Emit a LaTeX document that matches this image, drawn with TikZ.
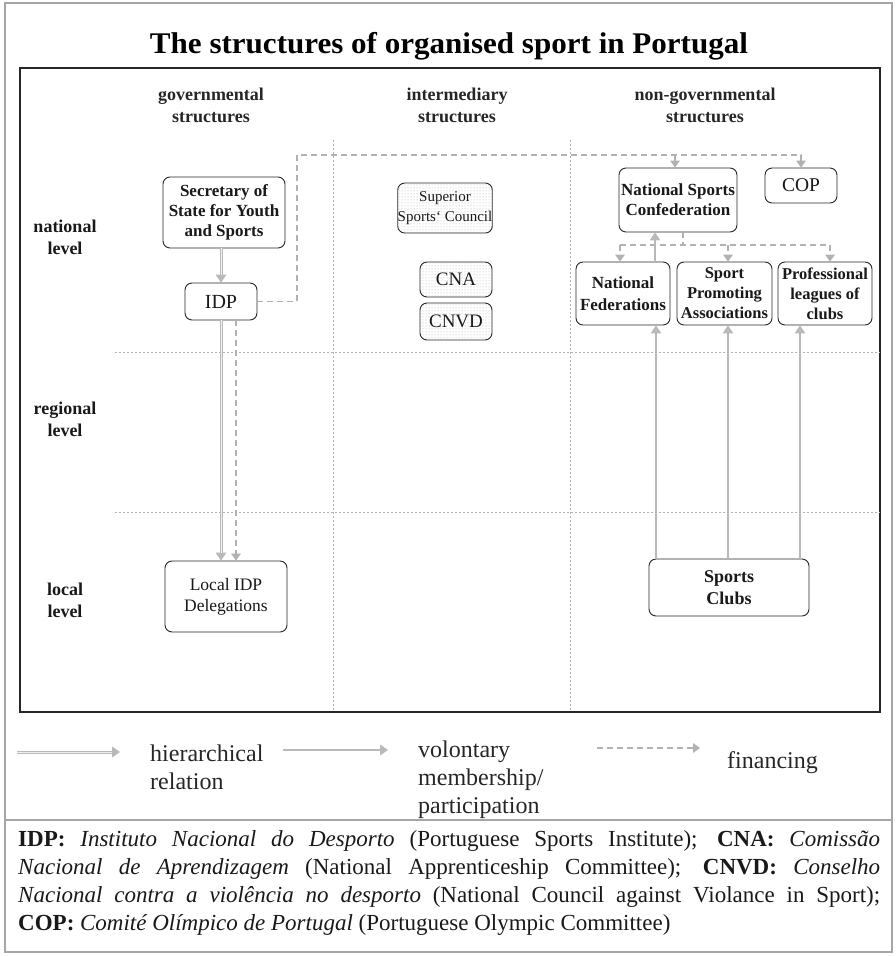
\documentclass[tikz,border=0pt]{standalone}
\usepackage{fontspec}
\setmainfont{Liberation Serif}
\usepackage{graphicx}
\usetikzlibrary{arrows.meta,patterns}
\begin{document}
\begin{tikzpicture}[x=1pt,y=-1pt,
  box/.style={draw=black!85, line width=0.9pt, rounded corners=7pt, fill=white, inner sep=0pt, align=center, text=black!90},
  dotbox/.style={box, preaction={fill=white}, pattern=dots, pattern color=gray!60},
  sep/.style={draw=gray!60, line width=0.8pt, dash pattern=on 1.5pt off 2.5pt},
  hier/.style={draw=gray!55, line width=3pt, -{Triangle[width=11pt,length=8pt,line width=0pt]}, postaction={draw=gray!12, line width=1pt, shorten >=8pt, -}},
  vol/.style={draw=gray!55, line width=2.6pt, -{Triangle[width=11pt,length=8pt,line width=0pt]}},
  finline/.style={draw=gray!60, line width=1.6pt, dash pattern=on 6pt off 4pt},
  fin/.style={finline, -{Triangle[width=10pt,length=7pt,line width=0pt]}},
  bx/.style={font=\fontsize{17}{20}\selectfont\bfseries},
  hdr/.style={font=\fontsize{18}{22}\selectfont\bfseries, align=center, inner sep=0pt, text=black!85},
  lvl/.style={font=\fontsize{18}{22}\selectfont\bfseries, align=center, inner sep=0pt, text=black!90},
  leg/.style={font=\fontsize{24}{28}\selectfont, align=left, inner sep=0pt, text=black!85}
]
\useasboundingbox (0,0) rectangle (895,956);
% frames
\draw[gray!70, line width=1.5pt] (5,3) rectangle (892,952);
\draw[black!85, line width=1.5pt] (20,68) rectangle (880,712);
\draw[gray!70, line width=2pt] (5,820) -- (892,820);
% title
\node[anchor=base, inner sep=0pt] (title) at (449,53) {\resizebox{598pt}{\height}{\fontsize{30}{36}\selectfont\bfseries The structures of organised sport in Portugal}};
% separators
\draw[sep] (333,140) -- (333,712);
\draw[sep] (570,140) -- (570,712);
\draw[sep] (115,352) -- (880,352);
\draw[sep] (115,512) -- (880,512);
% headers
\node[hdr, anchor=north] (hgov) at (211,88) {governmental\\structures};
\node[hdr, anchor=north] (hint) at (457,88) {intermediary\\structures};
\node[hdr, anchor=north] (hnon) at (705,88) {non-governmental\\structures};
% levels
\node[lvl, anchor=north] (lnat) at (65,220) {national\\level};
\node[lvl, anchor=north] (lreg) at (65,402) {regional\\level};
\node[lvl, anchor=north] (lloc) at (65,583) {local\\level};
% boxes
\node[box, bx, minimum width=122pt, minimum height=71pt] (sec) at (224,212.5) {Secretary of\\State for Youth\\and Sports};
\node[box, font=\fontsize{20}{22}\selectfont, minimum width=72pt, minimum height=37pt] (idp) at (221,301.5) {IDP};
\node[box, font=\fontsize{17.5}{21}\selectfont, minimum width=122pt, minimum height=71pt] (local) at (226,596.5) {Local IDP\\Delegations};
\node[dotbox, font=\fontsize{15}{20}\selectfont, minimum width=94pt, minimum height=50pt] (sup) at (445,208) {Superior\\Sports‘ Council};
\node[dotbox, font=\fontsize{19}{22}\selectfont, minimum width=72pt, minimum height=35pt] (cna) at (456,279.5) {CNA};
\node[dotbox, font=\fontsize{19}{22}\selectfont, minimum width=72pt, minimum height=37pt] (cnvd) at (456,321.5) {CNVD};
\node[box, bx, minimum width=118pt, minimum height=64pt] (nsc) at (678,200) {National Sports\\Confederation};
\node[box, font=\fontsize{19.5}{22}\selectfont, minimum width=72pt, minimum height=35pt] (cop) at (801,185.5) {COP};
\node[box, minimum width=94pt, minimum height=63pt, font=\fontsize{17}{22}\selectfont\bfseries] (natfed) at (623,293.5) {National\\Federations};
\node[box, font=\fontsize{16.5}{20}\selectfont\bfseries, minimum width=95pt, minimum height=63pt] (spa) at (724.5,293.5) {Sport\\Promoting\\Associations};
\node[box, font=\fontsize{16.5}{20}\selectfont\bfseries, minimum width=94pt, minimum height=63pt] (plc) at (825,293.5) {Professional\\leagues of\\clubs};
\node[box, font=\fontsize{18}{22}\selectfont\bfseries, minimum width=160pt, minimum height=57pt] (clubs) at (729,587.5) {Sports\\Clubs};
% hierarchical
\draw[hier] (idp.north |- sec.south) -- (idp.north);
\draw[hier] (idp.south) -- (idp.south |- local.north);
% financing
\coordinate (ix) at (236,400);
\draw[fin] (ix |- idp.south) -- (ix |- local.north);
\coordinate (f1) at (297,155);
\draw[fin] (idp.east) -| (f1) -- (f1 -| cop.north) -- (cop.north);
\coordinate (f3) at (675,155);
\draw[fin] (f3) -- (f3 |- nsc.north);
\coordinate (d0) at (683,245);
\coordinate (dl) at (620,245);
\coordinate (dm) at (728,245);
\coordinate (dr) at (830,245);
\draw[finline] (d0 |- nsc.south) -- (d0);
\draw[finline] (dl) -- (dr);
\draw[fin] (dl) -- (dl |- natfed.north);
\draw[fin] (dm) -- (dm |- spa.north);
\draw[fin] (dr) -- (dr |- plc.north);
% voluntary membership
\coordinate (vx) at (655,250);
\draw[vol] (vx |- natfed.north) -- (vx |- nsc.south);
\coordinate (cx1) at (656,400);
\coordinate (cx2) at (728,400);
\coordinate (cx3) at (800,400);
\draw[vol] (cx1 |- clubs.north) -- (cx1 |- natfed.south);
\draw[vol] (cx2 |- clubs.north) -- (cx2 |- spa.south);
\draw[vol] (cx3 |- clubs.north) -- (cx3 |- plc.south);
% legend
\coordinate (lh1) at (17,752);
\coordinate (lh2) at (120,752);
\draw[hier] (lh1) -- (lh2);
\node[leg, anchor=north west] (lhier) at (150,745) {hierarchical\\relation};
\coordinate (lv1) at (283,750);
\coordinate (lv2) at (388,750);
\draw[vol] (lv1) -- (lv2);
\node[leg, anchor=north west] (lvol) at (418,741) {volontary\\membership/\\participation};
\coordinate (lf1) at (597,748);
\coordinate (lf2) at (700,748);
\draw[fin] (lf1) -- (lf2);
\node[leg, anchor=north west] (lfin) at (727,751) {financing};
% footnote
\node[anchor=north west, inner sep=0pt, align=left, text=black!90, font=\fontsize{23}{28}\selectfont] (foot) at (18,830) {%
\makebox[862pt][s]{\textbf{IDP:} \textit{Instituto Nacional do Desporto} (Portuguese Sports Institute); \textbf{CNA:} \textit{Comissão}}\\
\makebox[862pt][s]{\textit{Nacional de Aprendizagem} (National Apprenticeship Committee); \textbf{CNVD:} \textit{Conselho}}\\
\makebox[862pt][s]{\textit{Nacional contra a violência no desporto} (National Council against Violance in Sport);}\\
\textbf{COP:} \textit{Comité Olímpico de Portugal} (Portuguese Olympic Committee)};
\end{tikzpicture}
\end{document}
